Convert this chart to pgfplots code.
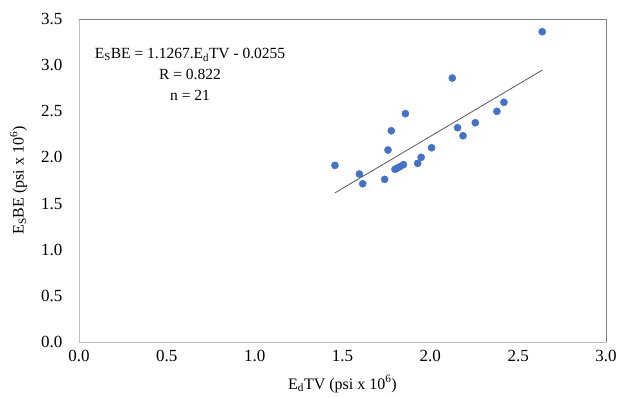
\documentclass[border=0pt]{standalone}
\usepackage{fontspec}
\setmainfont{Liberation Serif}
\usepackage{pgfplots}
\pgfplotsset{compat=1.18}
\definecolor{ptblue}{RGB}{68,114,196}
\definecolor{lgray}{RGB}{191,191,191}
\definecolor{dgray}{RGB}{128,128,128}
\begin{document}
\fontsize{16}{19}\selectfont
\begin{tikzpicture}
\path[use as bounding box] (-79pt,-56pt) rectangle (541pt,342pt);
\begin{axis}[
  scale only axis,
  width=527pt, height=323pt,
  xmin=0, xmax=3, ymin=0, ymax=3.5,
  xtick={0,0.5,...,3.0}, ytick={0,0.5,...,3.5},
  /pgf/number format/assume math mode=true,
  xticklabel style={/pgf/number format/.cd,fixed,fixed zerofill,precision=1},
  yticklabel style={/pgf/number format/.cd,fixed,fixed zerofill,precision=1},
  tick label style={font=\fontsize{17}{20}\selectfont},
  major tick length=0pt,
  axis line style={lgray, line width=0.9pt},
  xticklabel shift=3pt,
  yticklabel shift=11pt,
  xlabel={E\textsubscript{d}TV (psi x 10\textsuperscript{6})},
  ylabel={E\textsubscript{S}BE (psi x 10\textsuperscript{6})},
  label style={font=\fontsize{16}{19}\selectfont},
  xlabel style={at={(0.5,-0.13)}, anchor=center},
  ylabel style={at={(-0.115,0.5)}, anchor=center},
  clip=false,
]
\addplot[only marks, mark=*, mark size=3.6pt, mark options={draw=ptblue, fill=ptblue}] coordinates {
(1.457,1.914)
(1.596,1.820)
(1.615,1.715)
(1.740,1.762)
(1.759,2.080)
(1.778,2.289)
(1.858,2.474)
(1.799,1.871)
(1.812,1.885)
(1.827,1.900)
(1.847,1.922)
(1.928,1.936)
(1.948,2.001)
(2.007,2.105)
(2.125,2.860)
(2.155,2.322)
(2.186,2.235)
(2.256,2.376)
(2.379,2.499)
(2.419,2.597)
(2.637,3.362)
};
\addplot[draw=black!65, line width=0.8pt] coordinates {(1.457,1.616) (2.637,2.946)};
\draw[dgray, line width=0.9pt] (rel axis cs:0,1) -- (rel axis cs:1,1) -- (rel axis cs:1,0);
\node[align=center, font=\fontsize{15.5}{21}\selectfont] at (axis cs:0.632,2.90)
 {E\textsubscript{S}BE = 1.1267.E\textsubscript{d}TV - 0.0255\\R = 0.822\\n = 21};
\end{axis}
\end{tikzpicture}
\end{document}
